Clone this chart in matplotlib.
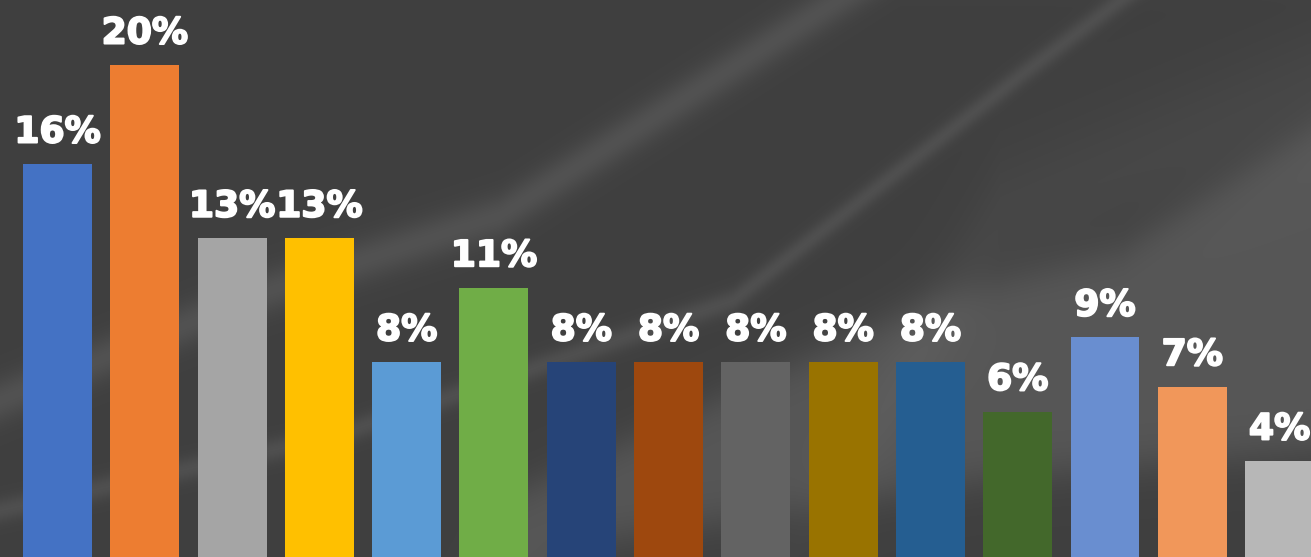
"""Percentage bar chart on a dark fabric-like background."""

import numpy as np
import matplotlib
matplotlib.use("Agg")
import matplotlib.pyplot as plt
import matplotlib.patheffects as pe

values = [16, 20, 13, 13, 8, 11, 8, 8, 8, 8, 8, 6, 9, 7, 4]
labels = [f"{v}%" for v in values]
colors = [
    "#4472C4", "#ED7D31", "#A5A5A5", "#FFC000", "#5B9BD5",
    "#70AD47", "#264478", "#9E480E", "#636363", "#997300",
    "#255E91", "#43682B", "#698ED0", "#F1975A", "#B7B7B7",
]

W, H = 1311, 557


def _background() -> np.ndarray:
    """Soft light folds on dark grey, roughly like the draped cloth photo."""
    yy, xx = np.mgrid[0:H, 0:W].astype(float)
    img = np.full((H, W), 0.25)

    def fold(px, py, width, amp):
        yc = np.interp(xx, px, py)
        return amp * np.exp(-((yy - yc) / width) ** 2)

    def sheet(px_top, py_top, px_bot, py_bot, soft, amp):
        top = np.interp(xx, px_top, py_top)
        bot = np.interp(xx, px_bot, py_bot)
        a = 1 / (1 + np.exp(-(yy - top) / soft))
        b = 1 / (1 + np.exp((yy - bot) / soft))
        return amp * a * b

    img += fold([0, 270, 500, 733, 900], [400, 290, 215, 67, -40], 22, 0.07)
    img += fold([0, 330, 733, 1023, 1160], [510, 437, 300, 73, -30], 12, 0.06)
    img += fold([800, 1311], [-60, -60], 30, 0.0)
    img += sheet([400, 500, 933, 1123, 1311], [700, 500, 300, 250, 130],
                 [400, 600, 1000, 1311], [700, 540, 477, 450], 12, 0.09)
    img += sheet([700, 1000, 1311], [700, 180, 50],
                 [700, 1000, 1311], [700, 260, 140], 25, 0.04)
    img = np.clip(img, 0, 1)
    return np.dstack([img, img, img])


fig = plt.figure(figsize=(W / 100, H / 100), dpi=100)
bg = fig.add_axes([0, 0, 1, 1])
bg.imshow(_background(), aspect="auto", extent=(0, 1, 0, 1), interpolation="bilinear")
bg.set_axis_off()

ax = fig.add_axes([0, 0, 1, 1])
ax.patch.set_alpha(0)
x = np.arange(len(values))
bars = ax.bar(x, values, width=0.79, color=colors)

for rect, lab in zip(bars, labels):
    ax.annotate(
        lab,
        (rect.get_x() + rect.get_width() / 2, rect.get_height()),
        xytext=(0, 15.5), textcoords="offset points",
        ha="center", va="baseline", color="white",
        fontsize=26, fontweight="bold", family="DejaVu Sans",
        path_effects=[pe.withStroke(linewidth=1.4, foreground="white")],
    )

ax.set_xlim(-0.659, 14.36)
ax.set_ylim(0.12, 22.63)
ax.set_axis_off()

fig.savefig("out.png", dpi=100)
